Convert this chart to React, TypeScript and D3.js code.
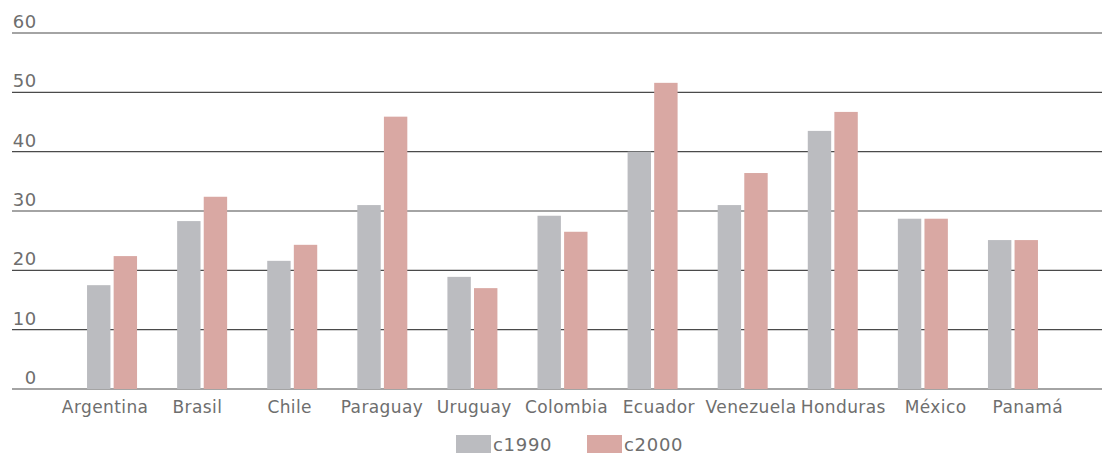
import React from 'react';
import * as d3 from 'd3';

const countries = ['Argentina', 'Brasil', 'Chile', 'Paraguay', 'Uruguay', 'Colombia', 'Ecuador', 'Venezuela', 'Honduras', 'México', 'Panamá'];
const c1990 = [17.5, 28.3, 21.6, 31.0, 18.9, 29.2, 40.0, 31.0, 43.5, 28.7, 25.1];
const c2000 = [22.4, 32.4, 24.3, 45.9, 17.0, 26.5, 51.6, 36.4, 46.7, 28.7, 25.1];
const seriesNames = ['c1990', 'c2000'];
const yTicks = [0, 10, 20, 30, 40, 50, 60];

const colors: Record<string, string> = { c1990: '#bbbcc0', c2000: '#d9a8a3' };
const textColor = '#6e6e6e';
const font = "'DejaVu Sans', sans-serif";

const W = 1102;
const H = 454;

const App = () => {
  // bars and labels sit on slightly different grids in the original
  const x = d3.scaleBand().domain(countries).range([67, 1058]).padding(0);
  const xLabel = d3.scaleBand().domain(countries).range([59, 1074]).padding(0);
  const inner = d3
    .scaleBand()
    .domain(seriesNames)
    .range([x.bandwidth() / 2 - 25, x.bandwidth() / 2 + 25])
    .paddingInner(0.12)
    .paddingOuter(0);
  const y = d3.scaleLinear().domain([0, 60]).range([389, 33]);

  const values: Record<string, number[]> = { c1990, c2000 };

  return (
    <svg width={W} height={H} style={{ display: 'block', position: 'absolute', left: 0, top: 0 }}>
      <rect width={W} height={H} fill="#fff" />
      {yTicks.map((t) => (
        <g key={t}>
          <line x1={12} x2={W} y1={y(t)} y2={y(t)} stroke="#4a4a4a" strokeWidth={1.1} />
          <text
            x={37}
            y={y(t) - 5}
            textAnchor="end"
            fontFamily={font}
            fontSize={18}
            letterSpacing={0.7}
            fill={textColor}
          >
            {t}
          </text>
        </g>
      ))}
      {countries.map((c, i) => (
        <g key={c} transform={`translate(${x(c)},0)`}>
          {seriesNames.map((s) => (
            <rect
              key={s}
              x={inner(s)}
              y={y(values[s][i])}
              width={inner.bandwidth()}
              height={y(0) - y(values[s][i])}
              fill={colors[s]}
            />
          ))}
        </g>
      ))}
      {countries.map((c) => (
        <text
          key={c}
          x={(xLabel(c) as number) + xLabel.bandwidth() / 2}
          y={413}
          textAnchor="middle"
          fontFamily={font}
          fontSize={17}
          letterSpacing={0.4}
          fill={textColor}
        >
          {c}
        </text>
      ))}
      {seriesNames.map((s, i) => (
        <g key={s} transform={`translate(${456 + i * 131},435)`}>
          <rect width={35} height={18} fill={colors[s]} />
          <text x={37} y={16} fontFamily={font} fontSize={18} letterSpacing={0.7} fill={textColor}>
            {s}
          </text>
        </g>
      ))}
    </svg>
  );
};

export default App;
